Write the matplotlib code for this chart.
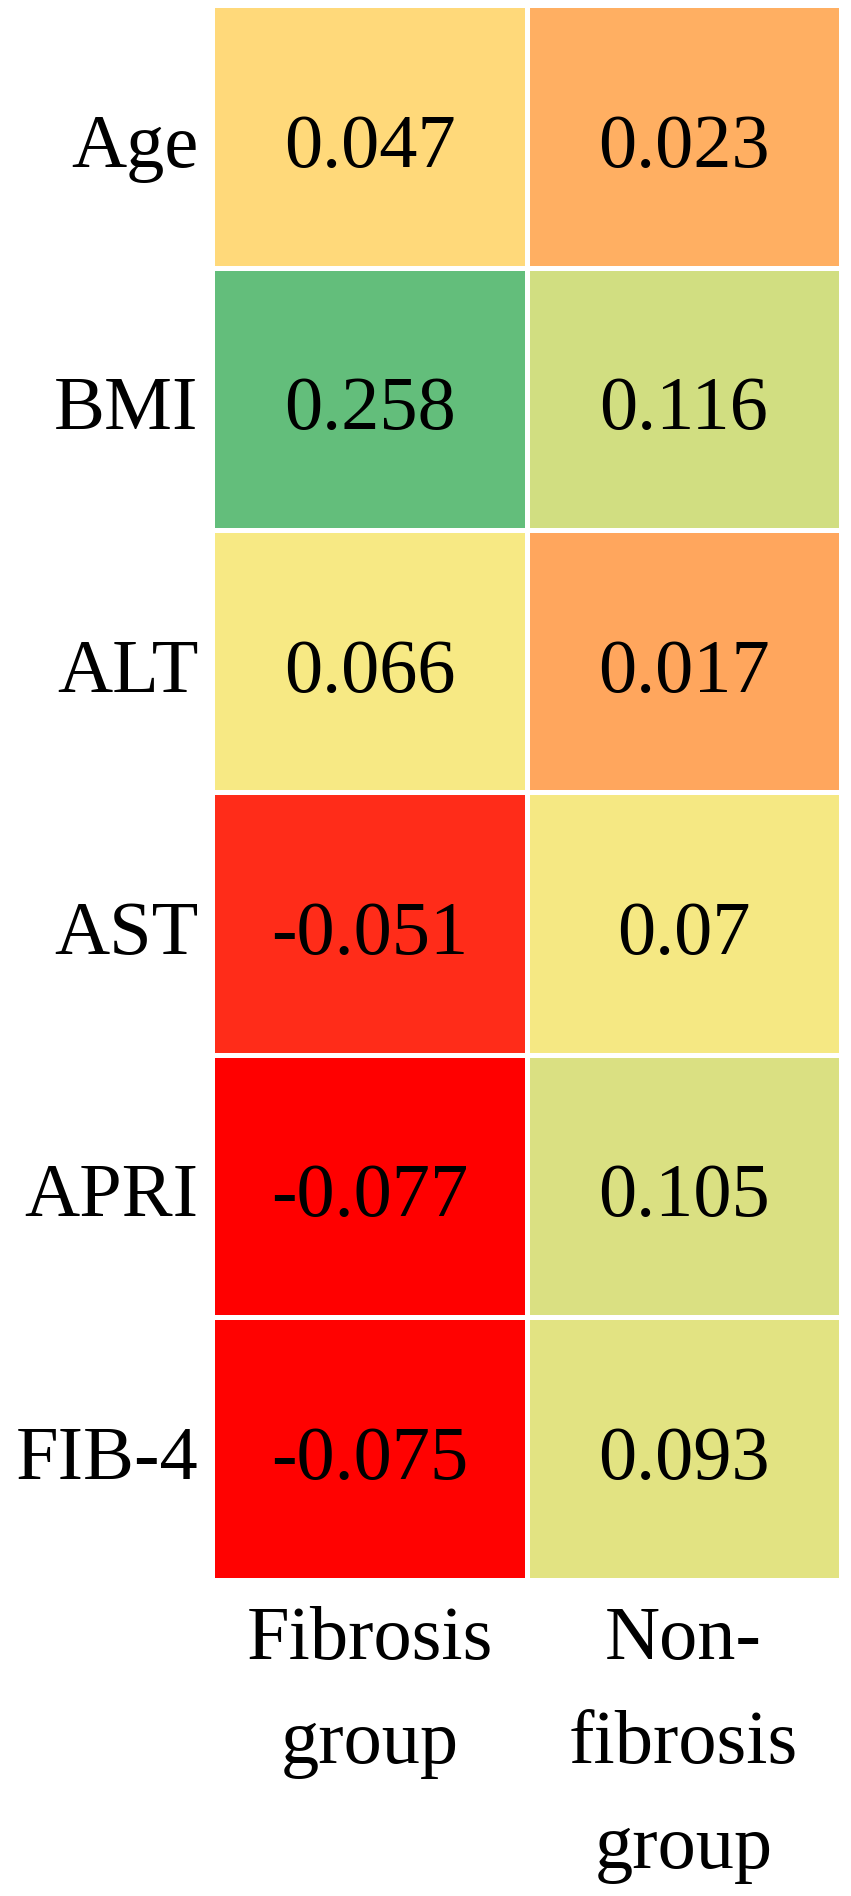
import numpy as np
import matplotlib
matplotlib.use("Agg")
import matplotlib.pyplot as plt
from matplotlib.colors import LinearSegmentedColormap, TwoSlopeNorm
from matplotlib.transforms import blended_transform_factory

rows = ["Age", "BMI", "ALT", "AST", "APRI", "FIB-4"]
groups = ["Fibrosis\ngroup", "Non-\nfibrosis\ngroup"]
fibrosis = [0.047, 0.258, 0.066, -0.051, -0.077, -0.075]
non_fibrosis = [0.023, 0.116, 0.017, 0.07, 0.105, 0.093]
value_labels = [["0.047", "0.023"], ["0.258", "0.116"], ["0.066", "0.017"],
                ["-0.051", "0.07"], ["-0.077", "0.105"], ["-0.075", "0.093"]]

data = np.column_stack([fibrosis, non_fibrosis])

plt.rcParams["font.family"] = ["Liberation Serif", "DejaVu Serif"]

# excel style 3 colour scale: red (min) -> yellow (median) -> green (max)
cmap = LinearSegmentedColormap.from_list("ryg", ["#FF0000", "#FFEB84", "#63BE7B"])
norm = TwoSlopeNorm(vmin=data.min(), vcenter=np.median(data), vmax=data.max())

fig = plt.figure(figsize=(8.51, 18.96), dpi=100)
ax = fig.add_axes([0.2497, 0.16693, 0.738, 0.83017])

ax.pcolormesh(data, cmap=cmap, norm=norm, edgecolors="white", linewidth=3.6)
ax.set_xlim(0, 2)
ax.set_ylim(len(rows), 0)
ax.set_axis_off()

fs = 55
for i in range(len(rows)):
    for j in range(2):
        ax.text(j + 0.5, i + 0.5 + 0.115, value_labels[i][j], ha="center",
                va="baseline", fontsize=fs, color="black")

trans = blended_transform_factory(ax.transAxes, ax.transData)
for i, name in enumerate(rows):
    ax.text(-0.022, i + 0.5 + 0.115, name, transform=trans, ha="right",
            va="baseline", fontsize=fs, color="black")

for j, g in enumerate(groups):
    ax.text(j + 0.5, len(rows) + 0.1, g, ha="center", va="top",
            fontsize=fs, color="black", linespacing=1.67,
            multialignment="center")

fig.savefig("out.png", dpi=100)
